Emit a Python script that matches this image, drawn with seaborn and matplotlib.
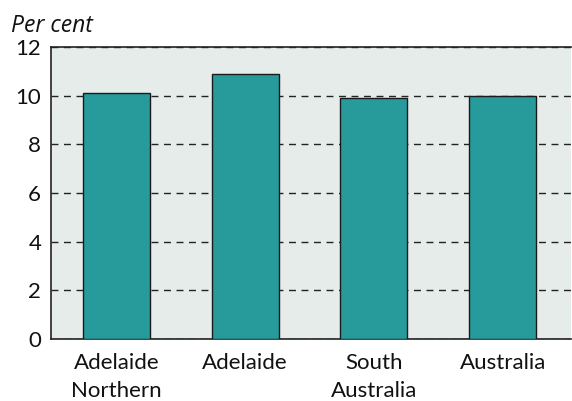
import matplotlib
matplotlib.use("Agg")
import matplotlib.pyplot as plt
import pandas as pd
import seaborn as sns

regions = ["Adelaide\nNorthern", "Adelaide", "South\nAustralia", "Australia"]
rates = [10.1, 10.9, 9.9, 10.0]
yticks = [0, 2, 4, 6, 8, 10, 12]

df = pd.DataFrame({"region": regions, "rate": rates})

sns.set_style("ticks")
plt.rcParams["font.family"] = ["Lato", "DejaVu Sans"]

fig = plt.figure(figsize=(5.72, 4.01), dpi=100)
ax = fig.add_axes([0.089, 0.155, 0.909, 0.728])
ax.set_facecolor("#e5ecea")

sns.barplot(data=df, x="region", y="rate", color="#279b9b", saturation=1,
            width=0.52, edgecolor="#1a1a1a", linewidth=1.0, ax=ax, zorder=3)

ax.set_ylim(0, 12)
ax.set_xlim(-0.51, 3.53)
ax.set_yticks(yticks)
ax.yaxis.grid(True, linestyle=(0, (5, 4)), color="#222222", linewidth=1.0, zorder=0)
ax.set_axisbelow(True)
ax.tick_params(axis="both", length=0, labelsize=16, colors="#111111")
ax.tick_params(axis="y", pad=7)
ax.tick_params(axis="x", pad=10)
for lbl in ax.get_xticklabels():
    lbl.set_linespacing(1.5)
ax.set_xlabel("")
ax.set_ylabel("")
for s in ["top", "left", "bottom"]:
    ax.spines[s].set_color("#222222")
    ax.spines[s].set_linewidth(1.2)
ax.spines["right"].set_visible(False)

fig.text(0.02, 0.92, "Per cent", fontsize=16.5, style="italic", color="#111111",
         family=["Open Sans", "DejaVu Sans"])

fig.savefig("out.png", dpi=100)
